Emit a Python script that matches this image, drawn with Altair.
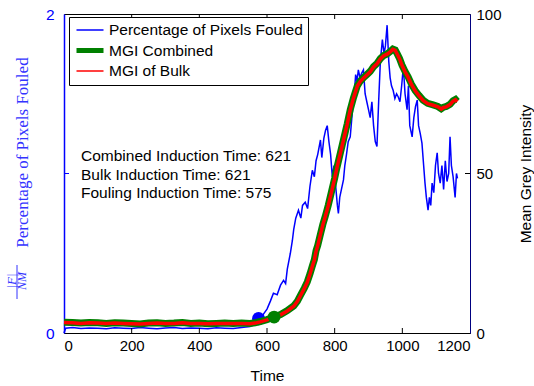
import altair as alt
import pandas as pd

# ---------------- data ----------------
SERIES = ["Percentage of Pixels Fouled", "MGI Combined", "MGI of Bulk"]
COLORS = ["#0000ff", "#008000", "#ff0000"]

# percentage of pixels fouled (left axis)
fouled_time = [
    0, 5, 25, 50, 75, 100, 125, 150, 175, 200,
    225, 250, 275, 300, 325, 350, 375, 400, 425, 450,
    475, 500, 525, 550, 560, 570, 575, 580, 590, 600,
    610, 619, 630, 640, 649, 655, 660, 669, 675, 679,
    685, 693, 700, 705, 713, 720, 727, 734, 740, 745,
    750, 758, 762, 768, 773, 778, 783, 788, 793, 798,
    803, 808, 811, 815, 820, 826, 830, 835, 840, 846,
    852, 858, 862, 866, 870, 875, 880, 885, 890, 895,
    900, 905, 910, 915, 920, 925, 930, 935, 941, 946,
    950, 955, 960, 964, 968, 973, 978, 983, 988, 993,
    998, 1003, 1008, 1014, 1018, 1022, 1029, 1034, 1039, 1044,
    1048, 1053, 1058, 1063, 1067, 1071, 1076, 1080, 1084, 1088,
    1093, 1098, 1103, 1107, 1112, 1117, 1122, 1127, 1132, 1137,
    1141, 1145, 1150, 1156, 1160, 1163,
]
fouled_pct = [
    0.00, 0.03, 0.035, 0.028, 0.032, 0.03, 0.026, 0.033, 0.03, 0.028,
    0.034, 0.03, 0.027, 0.031, 0.035, 0.029, 0.032, 0.03, 0.027, 0.033,
    0.03, 0.028, 0.034, 0.04, 0.05, 0.07, 0.09, 0.08, 0.12, 0.15,
    0.20, 0.25, 0.24, 0.30, 0.33, 0.31, 0.40, 0.50, 0.58, 0.65,
    0.72, 0.77, 0.72, 0.80, 0.82, 0.78, 0.92, 1.02, 0.98, 1.08,
    1.12, 1.21, 1.10, 1.22, 1.27, 1.30, 1.20, 1.12, 0.98, 1.05,
    0.92, 0.80, 0.75, 0.85, 0.90, 0.96, 1.05, 1.12, 1.20, 1.23,
    1.38, 1.50, 1.62, 1.58, 1.65, 1.60, 1.63, 1.65, 1.50, 1.45,
    1.40, 1.35, 1.45, 1.30, 1.20, 1.17, 1.45, 1.70, 1.84, 1.75,
    1.80, 1.93, 1.70, 1.60, 1.55, 1.52, 1.47, 1.50, 1.48, 1.45,
    1.55, 1.67, 1.50, 1.40, 1.55, 1.30, 1.23, 1.35, 1.42, 1.46,
    1.30, 1.25, 1.19, 1.05, 0.94, 0.85, 0.77, 0.85, 0.80, 0.94,
    0.88, 1.05, 1.13, 1.00, 0.94, 1.05, 0.90, 1.08, 0.95, 1.00,
    1.23, 1.05, 0.98, 0.85, 1.00, 0.97,
]

# mean grey intensity (right axis)
mgi_time = [
    0, 25, 50, 75, 100, 125, 150, 175, 200, 225,
    250, 275, 300, 325, 350, 375, 400, 425, 450, 475,
    500, 525, 550, 565, 580, 600, 621, 640, 660, 679,
    690, 700, 710, 719, 727, 734, 740, 745, 750, 758,
    765, 772, 781, 790, 800, 807, 817, 827, 837, 846,
    855, 867, 876, 885, 895, 905, 915, 925, 935, 945,
    955, 964, 972, 979, 985, 992, 999, 1008, 1017, 1027,
    1038, 1049, 1061, 1075, 1091, 1105, 1115, 1122, 1130, 1141,
    1150, 1157, 1162,
]
mgi_combined = [
    3.4, 3.3, 3.1, 3.3, 3.2, 3.0, 3.2, 3.1, 3.0, 2.8,
    3.1, 3.2, 3.0, 3.1, 3.3, 3.0, 3.1, 2.9, 3.0, 3.1,
    3.0, 3.1, 3.0, 3.2, 3.6, 4.2, 5.0, 5.8, 7.0, 8.5,
    10.0, 12.0, 14.0, 16.0, 18.5, 21.0, 23.0, 25.8, 27.5, 31.0,
    34.0, 36.5, 40.0, 44.0, 48.5, 52.0, 56.5, 61.0, 65.5, 70.0,
    73.5, 77.5, 79.0, 80.0, 81.0, 82.0, 83.5, 84.5, 86.0, 87.0,
    87.5, 88.2, 89.0, 88.7, 87.5, 86.0, 84.0, 82.0, 80.3, 78.0,
    76.0, 74.5, 73.0, 72.0, 71.5, 71.0, 70.3, 70.8, 71.0, 71.7,
    72.8, 73.2, 72.6,
]
mgi_bulk = [
    3.3, 3.2, 3.0, 3.2, 3.1, 3.0, 3.1, 3.0, 2.9, 2.8,
    3.0, 3.1, 3.0, 3.0, 3.2, 3.0, 3.0, 2.9, 3.0, 3.0,
    3.0, 3.0, 2.9, 3.1, 3.5, 4.1, 4.9, 5.7, 6.9, 8.4,
    9.9, 11.9, 13.9, 15.9, 18.4, 20.9, 22.9, 25.6, 27.4, 30.9,
    33.9, 36.4, 39.9, 43.9, 48.4, 51.9, 56.4, 60.9, 65.4, 69.9,
    73.4, 77.4, 78.9, 79.9, 80.9, 81.9, 83.4, 84.4, 85.9, 86.9,
    87.4, 88.1, 88.9, 88.6, 87.4, 85.9, 83.9, 81.9, 80.2, 77.9,
    75.9, 74.4, 72.9, 71.9, 71.4, 70.9, 70.2, 70.7, 70.9, 71.6,
    72.7, 73.1, 72.5,
]

combined_induction = 621
bulk_induction = 621
fouling_induction = 575

x_tick_values = [0, 200, 400, 600, 800, 1000, 1200]
inner_x_ticks = [200, 400, 600, 800, 1000]
left_tick_values = [0, 1, 2]
right_tick_values = [0, 50, 100]

# ---------------- frames ----------------
fouled = pd.DataFrame({"t": fouled_time, "v": fouled_pct, "series": SERIES[0]})
combined = pd.DataFrame({"t": mgi_time, "v": mgi_combined, "series": SERIES[1]})
bulk = pd.DataFrame({"t": mgi_time, "v": mgi_bulk, "series": SERIES[2]})

fouled_mark = fouled[fouled["t"] == fouling_induction][["t", "v"]]
combined_mark = combined[combined["t"] == combined_induction][["t", "v"]]

W, H = 406, 319
SANS = "Liberation Sans"
SERIF = "Liberation Serif"
BLUE = "#0000ff"
TITLE_BLUE = "#3333ff"

x_scale = alt.Scale(domain=[0, 1200], nice=False, zero=False)
x_axis = alt.Axis(
    values=x_tick_values, format="d", title="Time", grid=False, ticks=False,
    domainColor="black", labelColor="black", labelFont=SANS, labelFontSize=15,
    labelPadding=5, titleFont=SANS, titleFontSize=15.5, titleFontWeight="normal",
    titleColor="black", titleBaseline="alphabetic", titleY=47,
)
left_axis = alt.Axis(
    orient="left", values=left_tick_values, format="d", grid=False, ticks=False,
    domainColor=BLUE, domainWidth=1.5, labelColor=BLUE, labelFont=SANS,
    labelFontSize=15.5, labelPadding=10,
    title="Percentage of Pixels Fouled", titleFont=SERIF, titleFontSize=17,
    titleFontWeight="normal", titleColor=TITLE_BLUE, titleAngle=270,
    titleAlign="center", titleBaseline="alphabetic", titleX=-37, titleY=138,
)
right_axis = alt.Axis(
    orient="right", values=right_tick_values, format="d", grid=False, ticks=False,
    domainColor="#000080", labelColor="black", labelFont=SANS,
    labelFontSize=15, labelPadding=6,
    title="Mean Grey Intensity", titleFont=SANS, titleFontSize=15.5,
    titleFontWeight="normal", titleColor="black", titleAngle=270,
    titleAlign="center", titleBaseline="alphabetic", titleX=60, titleY=H / 2,
)

legend = alt.Legend(
    title=None, orient="none", legendX=5, legendY=3, symbolType="stroke",
    symbolSize=729, labelFont=SANS, labelFontSize=15.5, labelColor="black",
    labelLimit=320, labelOffset=3, strokeColor="black", fillColor="white",
    padding=5, clipHeight=16, rowPadding=3.5, cornerRadius=0,
)
color = alt.Color("series:N", scale=alt.Scale(domain=SERIES, range=COLORS), legend=legend)
stroke_w = alt.StrokeWidth(
    "series:N", scale=alt.Scale(domain=SERIES, range=[1.5, 5, 1.5], type="ordinal"), legend=legend
)

# secondary layers share the scales and axes set on the first layer of each group
x_plain = alt.X("t:Q")
y_plain = alt.Y("v:Q")
y_left = alt.Y("v:Q", scale=alt.Scale(domain=[0, 2], nice=False, zero=False), axis=left_axis)
y_right = alt.Y("v:Q", scale=alt.Scale(domain=[0, 100], nice=False, zero=False), axis=right_axis)

# ---------- left (percentage) layers ----------
blue_line = alt.Chart(fouled).mark_line(interpolate="linear").encode(
    x=alt.X("t:Q", scale=x_scale, axis=x_axis), y=y_left, color=color, strokeWidth=stroke_w
)
blue_dot = alt.Chart(fouled_mark).mark_circle(size=170, color=BLUE, opacity=1).encode(
    x=x_plain, y=y_plain
)
ticks_df = pd.DataFrame({"t": inner_x_ticks})
bottom_ticks = alt.Chart(ticks_df).mark_rule(color="black").encode(
    x=x_plain, y=alt.value(H), y2=alt.value(H - 5)
)
top_ticks = alt.Chart(ticks_df).mark_rule(color="black").encode(
    x=x_plain, y=alt.value(0), y2=alt.value(5)
)
left_tick = alt.Chart(pd.DataFrame({"v": [1]})).mark_rule(color=BLUE).encode(
    y=y_plain, x=alt.value(0), x2=alt.value(5)
)

# fraction |F| / NM placed in front of the left axis title
frac_df = pd.DataFrame({"a": [0]})
frac_num = alt.Chart(frac_df).mark_text(
    text="|F|", font=SERIF, fontStyle="italic", fontSize=13, color=TITLE_BLUE,
    angle=270, align="center", baseline="middle",
).encode(x=alt.value(-52), y=alt.value(267))
frac_den = alt.Chart(frac_df).mark_text(
    text="NM", font=SERIF, fontStyle="italic", fontSize=12, color=TITLE_BLUE,
    angle=270, align="center", baseline="middle",
).encode(x=alt.value(-42), y=alt.value(267))
frac_bar = alt.Chart(frac_df).mark_rule(color=TITLE_BLUE, strokeWidth=1).encode(
    x=alt.value(-47), x2=alt.value(-47), y=alt.value(251), y2=alt.value(285)
)

notes = alt.Chart(frac_df).mark_text(
    text=[
        f"Combined Induction Time: {combined_induction}",
        f"Bulk Induction Time: {bulk_induction}",
        f"Fouling Induction Time: {fouling_induction}",
    ],
    font=SANS, fontSize=15.5, color="black", align="left", baseline="alphabetic",
    lineHeight=18.5,
).encode(x=alt.value(17), y=alt.value(147))

left = alt.layer(blue_line, blue_dot, bottom_ticks, top_ticks, left_tick,
                 frac_num, frac_den, frac_bar, notes)

# ---------- right (MGI) layers ----------
green_line = alt.Chart(combined).mark_line(strokeWidth=7).encode(
    x=x_plain, y=y_right, color=color
)
red_line = alt.Chart(bulk).mark_line(strokeWidth=3.5).encode(
    x=x_plain, y=y_plain, color=color
)
green_dot = alt.Chart(combined_mark).mark_circle(size=165, color="#008000", opacity=1).encode(
    x=x_plain, y=y_plain
)
right_tick = alt.Chart(pd.DataFrame({"v": [50]})).mark_rule(color="black").encode(
    y=y_plain, x=alt.value(W), x2=alt.value(W - 5)
)
right = alt.layer(green_line, red_line, green_dot, right_tick)

chart = (
    alt.layer(left, right)
    .resolve_scale(y="independent")
    .properties(
        width=W, height=H,
        autosize=alt.AutoSizeParams(type="none"),
        padding={"left": 64, "top": 14, "right": 64, "bottom": 53},
        background="white",
    )
    .configure_view(stroke="black", strokeWidth=1)
)

chart.save("out.html", embed_options={"renderer": "svg", "actions": False})
